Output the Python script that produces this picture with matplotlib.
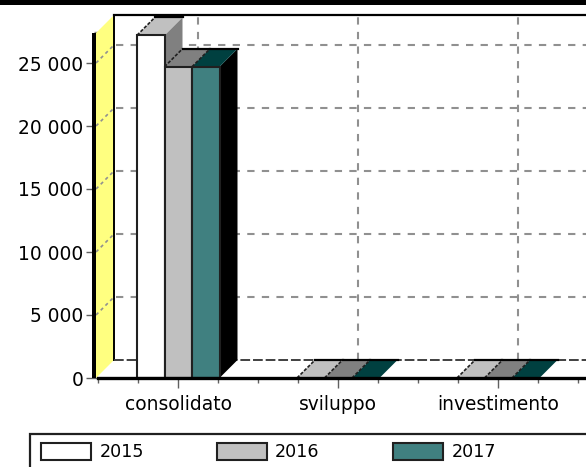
import matplotlib.pyplot as plt
from matplotlib.patches import Polygon, Rectangle

categories = ["consolidato", "sviluppo", "investimento"]
years = ["2015", "2016", "2017"]
v2015 = [27200, 0, 0]
v2016 = [24700, 0, 0]
v2017 = [24700, 0, 0]
y_ticks = [0, 5000, 10000, 15000, 20000, 25000]
y_labels = ["0", "5 000", "10 000", "15 000", "20 000", "25 000"]

front_col = ["#ffffff", "#c0c0c0", "#408080"]
top_col = ["#c0c0c0", "#808080", "#004040"]
side_col = ["#808080", "#606060", "#000000"]

W, H = 586, 467
fig = plt.figure(figsize=(W / 100, H / 100), dpi=100)
fig.patch.set_facecolor("white")
ax = fig.add_axes([98 / W, (H - 378) / H, (W - 98) / W, (378 - 15) / H])

px_x = 1 / 160      # one pixel in category units
px_y = 5000 / 63    # one pixel in value units
ax.set_xlim(-0.5, (W - 178) * px_x)
ax.set_ylim(0, 363 * px_y)
dx = 18 * px_x
dy = 18 * px_y
x0, x1 = ax.get_xlim()
y1 = ax.get_ylim()[1]
wall_x = x0 - 2 * px_x

#back wall grid
for v in y_ticks[1:]:
    ax.plot([x0 + dx, x1], [v + dy, v + dy], color="#909090", lw=1.5, ls=(0, (3.5, 3.5)), zorder=1)
    ax.plot([wall_x, wall_x + dx], [v, v + dy], color="#909090", lw=1.2, ls=(0, (2, 2)), zorder=3, clip_on=False)
for i in range(len(categories)):
    ax.plot([i + dx + 2 * px_x, i + dx + 2 * px_x], [dy, y1], color="#909090", lw=1.5, ls=(0, (3.5, 3.5)), zorder=1)

#left wall and floor
ax.add_patch(Polygon([(wall_x, 0), (wall_x + dx, dy), (wall_x + dx, y1), (wall_x, y1 - dy)],
                     fc="#ffff80", ec="none", zorder=2, clip_on=False))
ax.add_patch(Rectangle((wall_x - 4 * px_x, 0), 4 * px_x, y1 - dy, fc="black", ec="none", zorder=3, clip_on=False))
ax.plot([wall_x + dx, wall_x + dx], [dy, y1], color="black", lw=1.4, zorder=3, clip_on=False)
ax.plot([wall_x + dx, x1], [y1, y1], color="black", lw=1.6, zorder=3, clip_on=False)
ax.plot([wall_x + dx, x1], [dy, dy], color="#404040", lw=1.4, ls=(0, (5, 1.5)), zorder=3)

#bars, left to right so each one covers the side of the previous
width = 27.5 * px_x
for i in range(len(categories)):
    for j, vals in enumerate([v2015, v2016, v2017]):
        left = i - 41 * px_x + j * width
        right = left + width
        v = vals[i]
        z = 4 + j
        ax.add_patch(Polygon([(right, 0), (right + dx, dy), (right + dx, v + dy), (right, v)],
                             fc=side_col[j], ec="none", zorder=z, clip_on=False))
        ax.add_patch(Polygon([(left, v), (left + dx, v + dy), (right + dx, v + dy), (right, v)],
                             fc=top_col[j], ec="none", zorder=z, clip_on=False))
        ax.plot([left, left + dx], [v, v + dy], color="#202020", lw=1.2, ls=(0, (2, 1)), zorder=z, clip_on=False)
        ax.plot([left + dx, right + dx], [v + dy, v + dy], color="black", lw=1.6, zorder=z, clip_on=False)
        if v > 0:
            ax.add_patch(Rectangle((left, 0), width, v, fc=front_col[j], ec="#202020", lw=1.5, zorder=z, clip_on=False))

#axes
for s in ["top", "right", "left"]:
    ax.spines[s].set_visible(False)
ax.spines["bottom"].set_linewidth(2.4)
ax.spines["bottom"].set_zorder(8)
ax.set_facecolor("white")

ax.set_yticks(y_ticks)
ax.set_yticklabels(y_labels, fontsize=13.4)
ax.set_yticks([v + 2500 for v in y_ticks], minor=True)
ax.set_xticks(range(len(categories)))
ax.set_xticklabels(categories, fontsize=13.4)
ax.set_xticks([-0.5, -0.25, 0.25, 0.5, 0.75, 1.25, 1.5, 1.75, 2.25, 2.5], minor=True)
ax.tick_params(axis="y", which="major", length=8.6, width=1, color="#606060", pad=2)
ax.tick_params(axis="y", which="minor", length=3, width=1, color="#808080")
ax.tick_params(axis="x", which="major", length=7.5, width=1, color="#606060", pad=5)
ax.tick_params(axis="x", which="minor", length=3.5, width=1, color="#606060")

#black band at the very top
fig.add_artist(Rectangle((0, (H - 5) / H), 1, 5 / H, fc="black", ec="none", transform=fig.transFigure))

#legend box, cut by the bottom edge
fig.add_artist(Rectangle((30 / W, -5 / H), (W + 20) / W, (H - 434 + 5) / H, fc="white", ec="#202020", lw=1.6,
                         transform=fig.transFigure, zorder=10))
swatch_x = [41, 217, 393]
text_x = [100, 275, 452]
for j in range(3):
    fig.add_artist(Rectangle((swatch_x[j] / W, (H - 460) / H), 50 / W, 17 / H, fc=front_col[j], ec="#202020", lw=1.5,
                             transform=fig.transFigure, zorder=11))
    fig.text(text_x[j] / W, (H - 452) / H, years[j], fontsize=12.6, va="center", ha="left", zorder=11)

fig.savefig("out.png", dpi=100)
